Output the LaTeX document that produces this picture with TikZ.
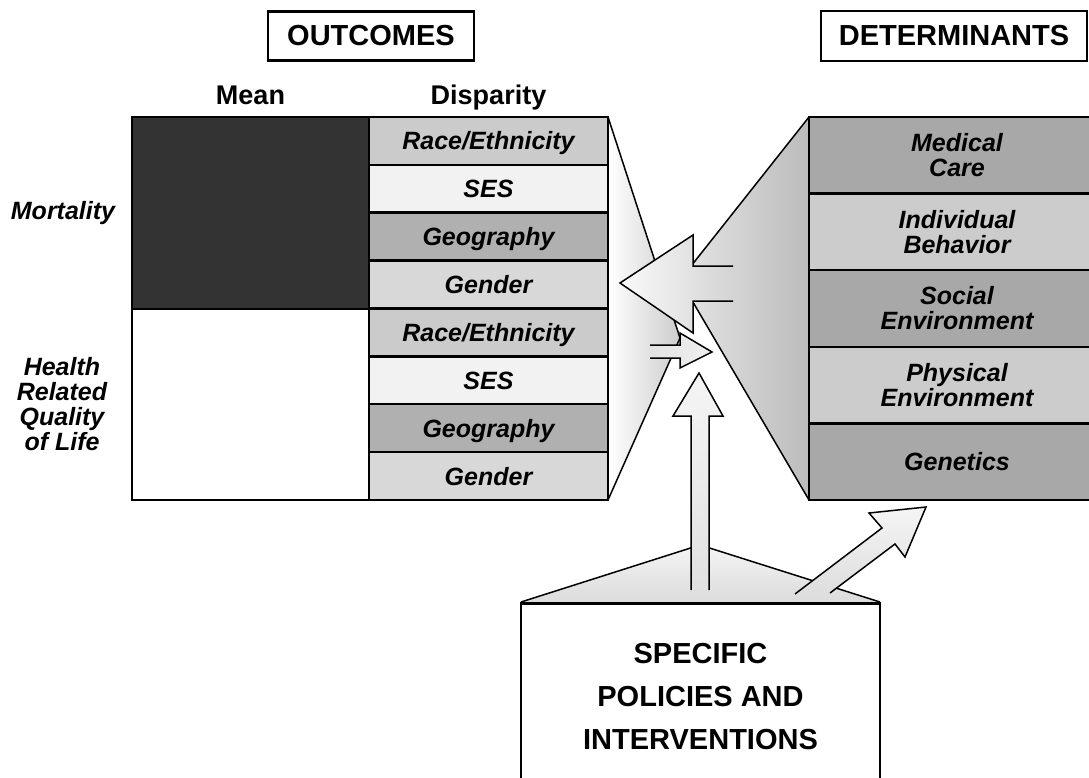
\documentclass[tikz,border=0pt]{standalone}
\usepackage{fontspec}
\setmainfont{Liberation Sans}

\definecolor{meandark}{HTML}{333333}
\definecolor{racec}{HTML}{CBCBCB}
\definecolor{sesc}{HTML}{F2F2F2}
\definecolor{geoc}{HTML}{B0B0B0}
\definecolor{genc}{HTML}{D8D8D8}
\definecolor{detdark}{HTML}{A8A8A8}
\definecolor{detlight}{HTML}{CCCCCC}

\newcommand{\raceeth}{Race/Ethnicity}

\tikzset{
  titlebox/.style={draw, line width=2.5pt, inner sep=0pt, font=\fontsize{29}{29}\selectfont\bfseries},
  head/.style={anchor=base, font=\fontsize{27}{27}\selectfont\bfseries},
  lab/.style={align=center, font=\fontsize{25}{25}\selectfont\bfseries\itshape},
  cell/.style={lab, draw, line width=2.5pt, inner sep=0pt, minimum width=239pt, minimum height=47.9pt, text height=18pt, text depth=0pt},
  detcell/.style={lab, draw, line width=2.5pt, inner sep=0pt, minimum width=296pt, minimum height=76.6pt},
  meancell/.style={draw, line width=2.5pt, minimum width=237pt},
  outl/.style={line width=1.5pt, line join=miter}
}

\begin{document}
\begin{tikzpicture}[x=1pt,y=-1pt]
\useasboundingbox (0,0) rectangle (1089,778);
\clip (0,0) rectangle (1089,778);

\shade[left color=white, right color=gray!40] (608,117) -- (680,338) -- (608,500) -- cycle;
\draw[outl] (608,117) -- (680,338) -- (608,500);
\shade[left color=gray!20, right color=gray!53] (809,117) -- (680,280) -- (809,500) -- cycle;
\draw[outl] (809,117) -- (680,280) -- (809,500);

\node[titlebox, minimum width=206pt, minimum height=49pt] (outc) at (371,36) {OUTCOMES};
\node[titlebox, minimum width=266pt, minimum height=50pt] (detm) at (954,36) {DETERMINANTS};
\node[head] (mean) at (250.5,105) {Mean};
\node[head] (disp) at (488.5,105) {Disparity};
\node[lab] (mort) at (63,213) {Mortality};
\node[lab] (hrql) at (62,404) {Health\\Related\\Quality\\of Life};

\node[meancell, fill=meandark, minimum height=192pt] (mmort) at (250.5,213) {};
\node[meancell, fill=white, minimum height=191pt] (mhrql) at (250.5,404.5) {};
\foreach \b in {0,1}
  \foreach \lab/\col [count=\i] in {\raceeth/racec, SES/sesc, Geography/geoc, Gender/genc}
    \node[cell, fill=\col] (d\b\i) at (488.5,{117+47.875*(4*\b+\i-0.5)}) {\lab};

\foreach \lab/\col [count=\i] in {Medical\\Care/detdark, Individual\\Behavior/detlight, Social\\Environment/detdark, Physical\\Environment/detlight, Genetics/detdark}
  \node[detcell, fill=\col] (det\i) at (957,{117+76.6*(\i-0.5)}) {\lab};

\shade[left color=gray!4, right color=gray!34] (733,266) -- (693,266) -- (693,235) -- (620,283) -- (693,333) -- (693,301) -- (733,301) -- cycle;
\draw[outl] (733,266) -- (693,266) -- (693,235) -- (620,283) -- (693,333) -- (693,301) -- (733,301);
\shade[left color=gray!22, right color=gray!12] (650,345) -- (680,345) -- (680,333) -- (712,352) -- (680,368) -- (680,358) -- (650,358) -- cycle;
\draw[outl] (650,345) -- (680,345) -- (680,333) -- (712,352) -- (680,368) -- (680,358) -- (650,358);

\shade[top color=gray!8, bottom color=gray!28] (521,602) -- (700,545) -- (880,602) -- cycle;
\draw[outl] (521,602) -- (700,545) -- (880,602);
\node[draw, line width=2.5pt, fill=white, minimum width=359pt, minimum height=186pt, anchor=north, align=center, font=\fontsize{29}{43}\selectfont\bfseries] (pol) at (700.5,602) {SPECIFIC\\POLICIES AND\\INTERVENTIONS};

\shade[top color=gray!8, bottom color=gray!24] (691,590) -- (691,416) -- (673,416) -- (699,373) -- (723,416) -- (709,416) -- (709,590) -- cycle;
\draw[outl] (691,590) -- (691,416) -- (673,416) -- (699,373) -- (723,416) -- (709,416) -- (709,590);
\shade[top color=gray!8, bottom color=gray!26] (795,594) -- (882,528) -- (869,513) -- (926,507) -- (905,557) -- (895,544) -- (830,593) -- cycle;
\draw[outl] (795,594) -- (882,528) -- (869,513) -- (926,507) -- (905,557) -- (895,544) -- (830,593);
\end{tikzpicture}
\end{document}
